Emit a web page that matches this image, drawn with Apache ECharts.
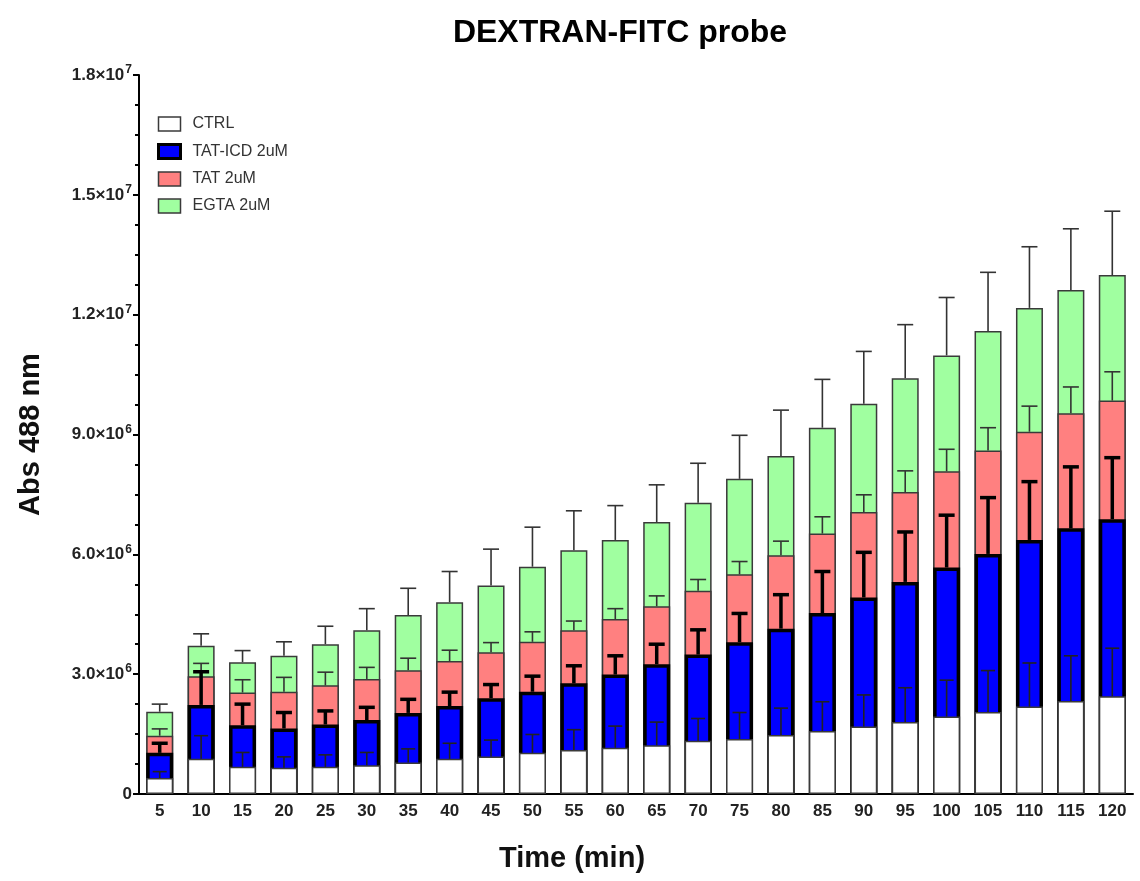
<!DOCTYPE html>
<html>
<head>
<meta charset="utf-8">
<script src="https://cdn.jsdelivr.net/npm/echarts@6/dist/echarts.min.js"></script>
<style>html,body{margin:0;padding:0;background:#fff;}#c{width:1140px;height:881px;}</style>
</head>
<body>
<div id="c"></div>
<script>
// Time categories (min)
const categories = ['5','10','15','20','25','30','35','40','45','50','55','60','65','70','75','80','85','90','95','100','105','110','115','120'];
// Means (×10^6)
const ctrl    = [0.40,0.88,0.68,0.66,0.68,0.72,0.79,0.88,0.94,1.03,1.10,1.16,1.22,1.33,1.38,1.48,1.58,1.69,1.80,1.94,2.05,2.19,2.33,2.45];
const tatIcd  = [1.03,2.23,1.72,1.64,1.74,1.85,2.03,2.20,2.40,2.56,2.77,2.99,3.25,3.49,3.80,4.14,4.53,4.92,5.31,5.67,6.01,6.36,6.65,6.88];
const tat     = [1.46,2.95,2.54,2.56,2.72,2.88,3.10,3.33,3.55,3.81,4.10,4.38,4.70,5.09,5.50,5.98,6.52,7.06,7.56,8.08,8.60,9.07,9.53,9.85];
const egta    = [2.06,3.71,3.30,3.46,3.75,4.10,4.48,4.80,5.22,5.69,6.10,6.36,6.81,7.29,7.89,8.46,9.17,9.77,10.41,10.98,11.59,12.17,12.62,12.99];
// Error (SD, ×10^6)
const ctrlErr   = [0.16,0.58,0.36,0.27,0.30,0.32,0.34,0.39,0.41,0.46,0.51,0.54,0.58,0.56,0.66,0.67,0.73,0.79,0.86,0.91,1.04,1.09,1.13,1.20];
const tatIcdErr = [0.24,0.83,0.53,0.40,0.34,0.32,0.34,0.35,0.34,0.39,0.44,0.47,0.50,0.62,0.72,0.85,1.04,1.13,1.25,1.31,1.41,1.46,1.54,1.54];
const tatErr    = [0.17,0.32,0.32,0.36,0.33,0.29,0.30,0.27,0.24,0.25,0.23,0.26,0.26,0.28,0.32,0.35,0.42,0.43,0.53,0.55,0.57,0.64,0.66,0.72];
const egtaErr   = [0.19,0.30,0.29,0.35,0.45,0.54,0.67,0.77,0.91,0.99,0.99,0.86,0.93,0.99,1.09,1.15,1.21,1.31,1.34,1.45,1.47,1.53,1.53,1.60];
const seriesNames = ['CTRL','TAT-ICD 2uM','TAT 2uM','EGTA 2uM'];
const SCALE = 1e6;

const chart = echarts.init(document.getElementById('c'));
const FONT = '"Liberation Sans", Arial, sans-serif';

function fmtY(v){
  if (v === 0) return '{m|0}';
  const e = Math.floor(Math.log10(v) + 1e-9);
  const m = v / Math.pow(10, e);
  return '{m|' + m.toFixed(1) + '×10}{e|' + e + '}';
}

function errSeries(name, means, errs, color, lw, cap){
  return {
    type: 'custom', name: name + ' err', z: 10, silent: true,
    data: means.map((v,i)=>[i, v*SCALE, errs[i]*SCALE]),
    renderItem: function(params, api){
      const x = api.value(0), y = api.value(1), sd = api.value(2);
      const p0 = api.coord([x, y]);
      const p1 = api.coord([x, y + sd]);
      const st = {stroke: color, lineWidth: lw};
      return {type:'group', children:[
        {type:'line', shape:{x1:p0[0], y1:p0[1], x2:p1[0], y2:p1[1]}, style: st},
        {type:'line', shape:{x1:p1[0]-cap/2, y1:p1[1], x2:p1[0]+cap/2, y2:p1[1]}, style: st}
      ]};
    }
  };
}

function barSeries(name, means, fill, border, bw){
  return {
    type:'bar', name: name, barWidth: 27, barGap: '-100%',
    data: means.map(v=>v*SCALE),
    itemStyle: {color: fill, borderColor: border, borderWidth: bw},
    emphasis: {disabled: true}
  };
}

chart.setOption({
  animation: false,
  title: {
    text: 'DEXTRAN-FITC probe', left: 615, top: 12, textAlign: 'center',
    textStyle: {fontFamily: FONT, fontWeight: 'bold', fontSize: 32, color: '#000'}
  },
  legend: {
    orient: 'vertical', left: 152, top: 111, itemWidth: 22, itemHeight: 14, itemGap: 11,
    icon: 'rect',
    data: [
      {name: seriesNames[0], itemStyle: {borderColor: '#3a3a3a', borderWidth: 1.5}},
      {name: seriesNames[1], itemStyle: {borderColor: '#000', borderWidth: 3}},
      {name: seriesNames[2], itemStyle: {borderColor: '#3a3a3a', borderWidth: 1.5}},
      {name: seriesNames[3], itemStyle: {borderColor: '#3a3a3a', borderWidth: 1.5}}
    ],
    textStyle: {fontFamily: FONT, fontSize: 16, color: '#333', padding: [0,0,0,7]}
  },
  grid: {left: 139, right: 7, top: 75, bottom: 87},
  xAxis: {
    type: 'category', data: categories,
    name: 'Time (min)', nameLocation: 'middle', nameGap: 50,
    nameTextStyle: {fontFamily: FONT, fontWeight: 'bold', fontSize: 29, color: '#111', padding: [0,128,0,0]},
    axisLine: {lineStyle: {color: '#000', width: 2}},
    axisTick: {alignWithLabel: true, length: 6, lineStyle: {color: '#000', width: 2}},
    axisLabel: {fontFamily: FONT, fontWeight: 'bold', fontSize: 17, color: '#222', margin: 9, interval: 0}
  },
  yAxis: {
    type: 'value', min: 0, max: 18e6, interval: 3e6,
    name: 'Abs 488 nm', nameLocation: 'middle', nameGap: 94,
    nameTextStyle: {fontFamily: FONT, fontWeight: 'bold', fontSize: 29, color: '#111'},
    axisLine: {show: true, lineStyle: {color: '#000', width: 2}},
    axisTick: {show: true, length: 6, lineStyle: {color: '#000', width: 2}},
    minorTick: {show: true, splitNumber: 4, length: 4, lineStyle: {color: '#000', width: 2}},
    splitLine: {show: false},
    axisLabel: {
      margin: 7, formatter: fmtY,
      rich: {
        m: {fontFamily: FONT, fontWeight: 'bold', fontSize: 17, color: '#222'},
        e: {fontFamily: FONT, fontWeight: 'bold', fontSize: 12, color: '#222', verticalAlign: 'top', padding: [0,0,10,1]}
      }
    }
  },
  series: [
    barSeries(seriesNames[3], egta, '#A0FFA0', '#3a3a3a', 1.5),
    barSeries(seriesNames[2], tat, '#FF8080', '#3a3a3a', 1.5),
    barSeries(seriesNames[1], tatIcd, '#0000FF', '#000', 3.5),
    barSeries(seriesNames[0], ctrl, '#FFFFFF', '#3a3a3a', 1.5),
    errSeries(seriesNames[3], egta, egtaErr, '#333', 1.6, 16),
    errSeries(seriesNames[2], tat, tatErr, '#333', 1.6, 16),
    errSeries(seriesNames[1], tatIcd, tatIcdErr, '#000', 3.5, 16),
    errSeries(seriesNames[0], ctrl, ctrlErr, '#222', 1.6, 14)
  ]
});
</script>
</body>
</html>
